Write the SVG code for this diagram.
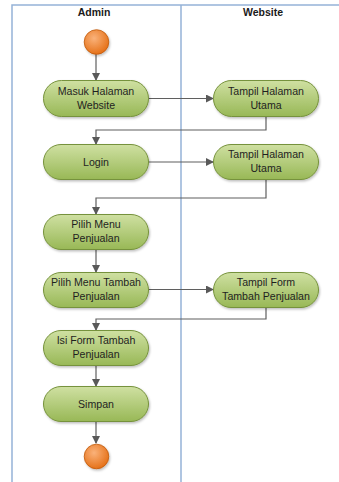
<svg xmlns="http://www.w3.org/2000/svg" width="339" height="482" viewBox="0 0 339 482">
<defs>
<linearGradient id="gn" x1="0" y1="0" x2="0" y2="1"><stop offset="0" stop-color="#cfe0a2"/><stop offset="1" stop-color="#98b856"/></linearGradient>
<radialGradient id="go" cx="0.4" cy="0.35" r="0.7"><stop offset="0" stop-color="#fab27a"/><stop offset="1" stop-color="#e46d12"/></radialGradient>
<filter id="sh" x="-10%" y="-10%" width="125%" height="140%"><feDropShadow dx="1" dy="1.5" stdDeviation="1" flood-color="#000" flood-opacity="0.25"/></filter>
<marker id="ar" markerWidth="8" markerHeight="8" refX="7" refY="4" orient="auto" markerUnits="userSpaceOnUse"><path d="M0,0 L8,4 L0,8 Z" fill="#595959"/></marker>
<style>
.lane{fill:none;stroke:#95b3d7;stroke-width:1.5}
.hd{font-family:"Liberation Sans",Arial,sans-serif;font-size:10.5px;font-weight:bold;fill:#1a1a1a;text-anchor:middle}
.nd{fill:url(#gn);stroke:#76923c;stroke-width:1;filter:url(#sh)}
.ci{fill:url(#go);stroke:#c0590a;stroke-width:0.8;filter:url(#sh)}
.tx{font-family:"Liberation Sans",Arial,sans-serif;font-size:10.6px;fill:#1f1f1f;text-anchor:middle}
.cn{fill:none;stroke:#5f5f5f;stroke-width:1.2;marker-end:url(#ar)}
</style>
</defs>
<rect width="339" height="482" fill="#ffffff"/>
<g id="lanes">
<path class="lane" d="M12,482 V5 H339 M181,5 V482"/>
<text class="hd" x="94" y="16">Admin</text>
<text class="hd" x="263" y="16">Website</text>
</g>
<g id="connectors">
<path class="cn" d="M96,54 V80"/>
<path class="cn" d="M148,98.5 H213"/>
<path class="cn" d="M266,116 V130 H96 V144"/>
<path class="cn" d="M148,162 H213"/>
<path class="cn" d="M266,180 V198 H96 V214"/>
<path class="cn" d="M96,250 V272"/>
<path class="cn" d="M148,289.5 H213"/>
<path class="cn" d="M266,308 V319 H96 V330"/>
<path class="cn" d="M96,366 V386"/>
<path class="cn" d="M96,422 V443"/>
</g>
<g id="start"><circle class="ci" cx="96.5" cy="42" r="12.3"/></g>
<g id="masuk"><rect class="nd" x="43.5" y="80.5" width="105" height="36" rx="18"/><text class="tx" x="96" y="94.5">Masuk Halaman</text><text class="tx" x="96" y="108.5">Website</text></g>
<g id="tampil1"><rect class="nd" x="213.5" y="80.5" width="105" height="36" rx="18"/><text class="tx" x="266" y="94.5">Tampil Halaman</text><text class="tx" x="266" y="108.5">Utama</text></g>
<g id="login"><rect class="nd" x="43.5" y="144.5" width="105" height="35" rx="17.5"/><text class="tx" x="96" y="165.5">Login</text></g>
<g id="tampil2"><rect class="nd" x="213.5" y="144.5" width="105" height="35" rx="17.5"/><text class="tx" x="266" y="158">Tampil Halaman</text><text class="tx" x="266" y="172">Utama</text></g>
<g id="pilihmenu"><rect class="nd" x="43.5" y="214.5" width="105" height="35" rx="17.5"/><text class="tx" x="96" y="228">Pilih Menu</text><text class="tx" x="96" y="242">Penjualan</text></g>
<g id="pilihtambah"><rect class="nd" x="43.5" y="272.5" width="105" height="35" rx="17.5"/><text class="tx" x="96" y="286">Pilih Menu Tambah</text><text class="tx" x="96" y="300">Penjualan</text></g>
<g id="tampilform"><rect class="nd" x="213.5" y="272.5" width="105" height="35" rx="17.5"/><text class="tx" x="266" y="286">Tampil Form</text><text class="tx" x="266" y="300">Tambah Penjualan</text></g>
<g id="isiform"><rect class="nd" x="43.5" y="330.5" width="105" height="35" rx="17.5"/><text class="tx" x="96" y="344">Isi Form Tambah</text><text class="tx" x="96" y="358">Penjualan</text></g>
<g id="simpan"><rect class="nd" x="43.5" y="386.5" width="105" height="35" rx="17.5"/><text class="tx" x="96" y="407.5">Simpan</text></g>
<g id="end"><circle class="ci" cx="96.5" cy="456.5" r="12.3"/></g>
</svg>
